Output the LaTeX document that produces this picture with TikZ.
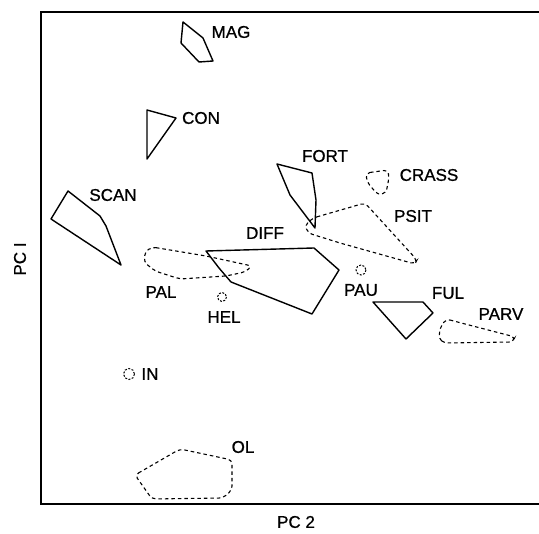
\documentclass[tikz,border=0pt]{standalone}
\usepackage{fontspec}
\setmainfont{Liberation Sans}
\newfontfamily\labfont{Liberation Sans}[FakeBold=0.8]
\begin{document}
\begin{tikzpicture}[x=1pt,y=-1pt,
  lab/.style={font=\labfont\fontsize{17}{17}\selectfont, inner sep=0pt},
  solidpoly/.style={draw, line width=1.4pt, line join=round},
  dashpoly/.style={draw, line width=1.1pt, dash pattern=on 3.5pt off 3pt, rounded corners=4pt},
  dotcirc/.style={draw, line width=1pt, dash pattern=on 2pt off 1.5pt},
  frame/.style={line width=2pt}]
\useasboundingbox (0,0) rectangle (539,534);
% frame
\draw[frame] (539,12) -- (41,12) -- (41,504) -- (539,504);
% axis labels
\node[lab, rotate=90] (pc1) at (20,259) {PC I};
\node[lab] (pc2) at (296,522) {PC 2};
% solid polygons
\draw[solidpoly] (183,22) -- (203,38) -- (213,61) -- (199,62) -- (181,43) -- cycle;
\draw[solidpoly] (147,110) -- (176,118) -- (147,159) -- cycle;
\draw[solidpoly] (68,191) -- (100,216) -- (106,226) -- (121,265) -- (51,219) -- cycle;
\draw[solidpoly] (206,251) -- (314,248) -- (339,270) -- (312,314) -- (231,282) -- (219,268) -- cycle;
\draw[solidpoly] (277,164) -- (312,173) -- (316,200) -- (315,228) -- (290,195) -- cycle;
\draw[solidpoly] (373,302) -- (423,302) -- (433,313) -- (406,339) -- cycle;
% dashed polygons
\draw[dashpoly] (152,247) -- (206,256) -- (252,266) -- (245,272) -- (226,276) -- (180,279) -- (155,271) -- (144,262) -- (145,252) -- cycle;
\draw[dashpoly] (135,475) -- (180,449) -- (232,460) -- (232,490) -- (223,498) -- (152,499) -- cycle;
\draw[dashpoly] (366,173) -- (388,170) -- (389,178) -- (386,193) -- (378,195) -- (367,182) -- cycle;
\draw[dashpoly] (313,218) -- (365,203) -- (417,260) -- (415,264) -- (340,243) -- (308,233) -- (305,225) -- cycle;
\draw[dashpoly] (446,319) -- (515,337) -- (513,342) -- (444,343) -- (439,339) -- (440,328) -- cycle;
% small dashed circles
\draw[dotcirc] (222,297) circle (4.5);
\draw[dotcirc] (129,374) circle (5.5);
\draw[dotcirc] (361,270) circle (5);
% labels
\node[lab] (mag) at (231,32) {MAG};
\node[lab] (con) at (201,118) {CON};
\node[lab] (scan) at (113,195) {SCAN};
\node[lab] (fort) at (325,156) {FORT};
\node[lab] (crass) at (429,175) {CRASS};
\node[lab] (psit) at (413,216) {PSIT};
\node[lab] (diff) at (265,233) {DIFF};
\node[lab] (pal) at (161,292) {PAL};
\node[lab] (hel) at (224,317) {HEL};
\node[lab] (pau) at (361,290) {PAU};
\node[lab] (ful) at (448,293) {FUL};
\node[lab] (parv) at (501,314) {PARV};
\node[lab] (in) at (150,374) {IN};
\node[lab] (ol) at (243,447) {OL};
\end{tikzpicture}
\end{document}
